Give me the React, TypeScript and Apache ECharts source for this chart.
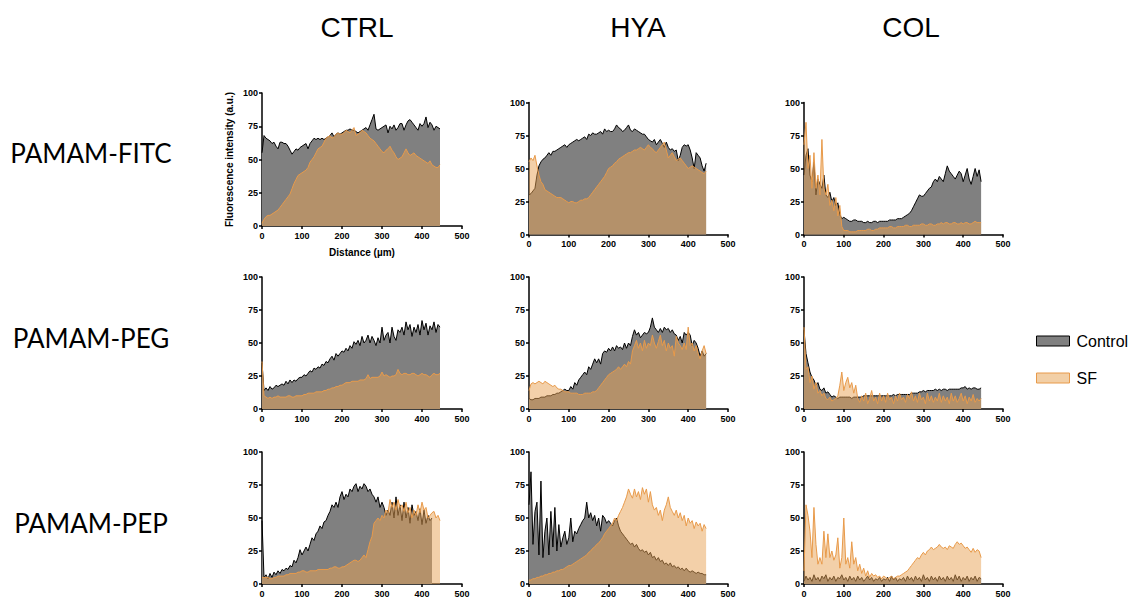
import React, { useEffect, useRef } from "react";
import * as echarts from "echarts";

// Shared distance grid (µm)
const distance = [
  0, 5, 10, 15, 20, 25, 30, 35, 40, 45,
  50, 55, 60, 65, 70, 75, 80, 85, 90, 95,
  100, 105, 110, 115, 120, 125, 130, 135, 140, 145,
  150, 155, 160, 165, 170, 175, 180, 185, 190, 195,
  200, 205, 210, 215, 220, 225, 230, 235, 240, 245,
  250, 255, 260, 265, 270, 275, 280, 285, 290, 295,
  300, 305, 310, 315, 320, 325, 330, 335, 340, 345,
  350, 355, 360, 365, 370, 375, 380, 385, 390, 395,
  400, 405, 410, 415, 420, 425, 430, 435, 440, 445,
];

const columnTitles = ["CTRL", "HYA", "COL"];
const rowTitles = ["PAMAM-FITC", "PAMAM-PEG", "PAMAM-PEP"];
const xTicks = [0, 100, 200, 300, 400, 500];
const yTicks = [0, 25, 50, 75, 100];

// Row 1: PAMAM-FITC
const ctrlFitcControl = [
  55, 68, 66, 65, 64, 62, 63, 60, 58, 63,
  63, 62, 62, 60, 57, 54, 56, 58, 57, 59,
  60, 61, 62, 58, 62, 64, 66, 65, 66, 65,
  66, 65, 66, 67, 68, 70, 67, 69, 70, 69,
  70, 71, 72, 72, 73, 72, 72, 71, 70, 71,
  72, 73, 74, 72, 76, 80, 84, 73, 72, 73,
  74, 75, 76, 70, 75, 73, 76, 72, 74, 77,
  77, 72, 76, 79, 80, 78, 76, 74, 72, 77,
  75, 77, 82, 74, 78, 76, 72, 75, 74, 73,
];
const ctrlFitcSF = [
  2, 5, 7, 8, 8, 9, 10, 11, 12, 14,
  16, 18, 20, 22, 24, 28, 32, 35, 38, 39,
  40, 41, 42, 44, 48, 50, 52, 55, 58, 59,
  60, 63, 66, 67, 68, 66, 67, 69, 70, 69,
  69, 70, 72, 71, 70, 72, 74, 68, 69, 70,
  72, 71, 70, 68, 66, 65, 64, 62, 60, 58,
  56, 55, 57, 58, 60, 57, 55, 52, 50, 51,
  52, 55, 58, 55, 53, 54, 55, 53, 52, 51,
  50, 49, 48, 47, 49, 46, 45, 44, 44, 46,
];
const hyaFitcControl = [
  30, 31, 33, 35, 45, 52, 55, 57, 58, 60,
  62, 60, 63, 63, 64, 65, 66, 67, 68, 66,
  68, 69, 70, 71, 72, 71, 72, 73, 74, 72,
  76, 75, 77, 76, 76, 77, 78, 76, 80, 78,
  79, 78, 78, 80, 83, 81, 80, 78, 79, 81,
  83, 79, 78, 80, 79, 78, 77, 76, 76, 74,
  72, 71, 70, 72, 68, 70, 72, 69, 66, 70,
  66, 64, 65, 63, 64, 56, 60, 66, 68, 67,
  68, 64, 58, 50, 62, 60, 58, 52, 48, 54,
];
const hyaFitcSF = [
  55, 58, 56, 60, 52, 45, 40, 38, 34, 33,
  32, 31, 30, 29, 28, 28, 28, 27, 26, 25,
  24, 25, 25, 24, 24, 25, 26, 26, 27, 27,
  28, 30, 32, 34, 36, 38, 40, 42, 44, 47,
  50, 51, 52, 54, 55, 57, 58, 59, 60, 61,
  62, 62, 63, 64, 64, 65, 66, 65, 64, 66,
  68, 66, 65, 63, 62, 64, 66, 68, 70, 64,
  58, 60, 62, 59, 56, 57, 58, 56, 54, 52,
  50, 51, 52, 51, 50, 49, 48, 47, 46, 48,
];
const colFitcControl = [
  45, 60, 65, 45, 40, 55, 30, 42, 38, 35,
  45, 30, 28, 32, 25, 28, 22, 24, 15, 12,
  13, 12, 11, 10, 10, 11, 11, 10, 10, 10,
  9, 9, 10, 9, 9, 10, 10, 9, 10, 10,
  10, 10, 10, 11, 11, 11, 11, 12, 12, 12,
  13, 14, 15, 16, 18, 21, 24, 27, 30, 29,
  29, 31, 33, 35, 36, 40, 42, 40, 44, 42,
  40, 46, 52, 48, 46, 44, 42, 45, 48, 46,
  40, 45, 50, 42, 38, 44, 50, 44, 49, 40,
];
const colFitcSF = [
  68, 85, 50, 60, 35, 62, 35, 45, 30, 72,
  35, 30, 38, 22, 26, 18, 28, 14, 22, 6,
  3, 3, 3, 2, 2, 2, 2, 3, 3, 3,
  3, 3, 4, 4, 3, 3, 4, 4, 5, 5,
  5, 5, 5, 6, 6, 5, 5, 6, 6, 6,
  6, 7, 7, 6, 6, 7, 7, 7, 7, 8,
  8, 7, 7, 8, 8, 7, 7, 8, 8, 9,
  8, 9, 9, 8, 8, 9, 9, 8, 8, 9,
  8, 9, 9, 8, 8, 9, 10, 9, 9, 9,
];

// Row 2: PAMAM-PEG
const ctrlPegControl = [
  35, 14, 16, 14, 17, 15, 16, 18, 17, 18,
  19, 18, 21, 19, 22, 20, 22, 21, 23, 24,
  24, 26, 25, 27, 29, 28, 31, 30, 32, 31,
  34, 33, 36, 35, 38, 40, 37, 42, 40, 42,
  44, 43, 46, 44, 48, 46, 51, 49, 52, 48,
  55, 50, 52, 56, 50, 55, 52, 48, 54, 50,
  62, 52, 56, 58, 50, 62, 55, 52, 60, 58,
  62, 56, 66, 60, 64, 55, 62, 58, 64, 56,
  67, 60, 65, 56, 63, 60, 66, 58, 64, 62,
];
const ctrlPegSF = [
  36, 10, 9, 8, 9, 8, 9, 9, 10, 9,
  9, 9, 9, 10, 10, 9, 9, 10, 10, 10,
  10, 11, 11, 12, 12, 12, 12, 13, 13, 13,
  13, 14, 14, 15, 15, 16, 16, 17, 17, 18,
  18, 19, 20, 20, 20, 21, 21, 21, 21, 22,
  22, 22, 23, 26, 23, 24, 24, 24, 24, 25,
  28, 25, 26, 25, 24, 25, 25, 26, 30, 27,
  26, 27, 27, 26, 26, 27, 27, 26, 25, 26,
  27, 26, 26, 25, 24, 26, 27, 26, 26, 27,
];
const hyaPegControl = [
  8, 7, 7, 8, 8, 8, 9, 9, 9, 10,
  10, 10, 11, 11, 12, 12, 13, 14, 15, 14,
  14, 17, 15, 20, 18, 22, 24, 26, 28, 26,
  32, 30, 34, 38, 35, 38, 34, 42, 44, 43,
  46, 44, 47, 44, 48, 46, 47, 45, 50, 46,
  50, 48, 55, 60, 56, 58, 54, 56, 58, 57,
  58, 62, 69, 62, 60, 58, 61, 58, 62, 60,
  61, 58, 60, 57, 56, 52, 55, 50, 58, 56,
  58, 56, 48, 52, 50, 46, 40, 44, 40, 42,
];
const hyaPegSF = [
  14, 19, 20, 19, 20, 21, 20, 19, 21, 20,
  19, 18, 17, 18, 16, 15, 15, 14, 13, 13,
  13, 12, 12, 12, 12, 11, 11, 11, 12, 12,
  12, 12, 13, 13, 14, 16, 18, 20, 22, 24,
  26, 27, 28, 29, 30, 32, 30, 32, 34, 32,
  36, 34, 44, 48, 52, 46, 50, 44, 52, 46,
  50, 48, 56, 50, 46, 51, 56, 48, 52, 44,
  50, 46, 48, 40, 55, 50, 48, 45, 50, 45,
  62, 48, 50, 44, 48, 42, 38, 44, 48, 42,
];
const colPegControl = [
  60, 42, 35, 28, 24, 22, 18, 20, 15, 14,
  16, 12, 13, 11, 9, 10, 9, 8, 9, 9,
  9, 9, 9, 9, 8, 9, 9, 9, 9, 9,
  10, 10, 10, 10, 10, 10, 10, 10, 10, 10,
  10, 10, 10, 10, 10, 11, 10, 11, 11, 11,
  11, 11, 11, 11, 12, 12, 12, 12, 13, 13,
  14, 13, 14, 14, 14, 14, 15, 14, 15, 14,
  15, 15, 14, 15, 15, 15, 15, 15, 15, 16,
  16, 17, 15, 16, 15, 16, 16, 15, 15, 16,
];
const colPegSF = [
  62, 30, 32, 20, 25, 15, 20, 12, 14, 10,
  12, 8, 7, 9, 6, 7, 8, 10, 18, 28,
  14, 20, 24, 16, 20, 12, 18, 8, 5, 10,
  6, 12, 4, 8, 14, 6, 9, 4, 12, 6,
  10, 5, 12, 7, 9, 4, 10, 6, 12, 7,
  9, 5, 11, 8, 13, 6, 10, 5, 12, 7,
  9, 4, 12, 6, 10, 5, 9, 6, 12, 5,
  10, 6, 9, 4, 12, 6, 10, 5, 8, 12,
  6, 10, 4, 9, 6, 11, 5, 8, 6, 8,
];

// Row 3: PAMAM-PEP
const ctrlPepControl = [
  48, 5, 7, 4, 8, 5, 9, 7, 10, 8,
  11, 10, 12, 11, 14, 13, 18, 16, 20, 26,
  22, 25, 28, 25, 30, 35, 33, 38, 40, 44,
  42, 47, 48, 52, 55, 60, 58, 62, 58, 66,
  70, 64, 68, 66, 72, 70, 74, 76, 70, 74,
  72, 76, 74, 70, 72, 68, 66, 62, 66, 58,
  62, 58, 52, 56, 52, 62, 50, 66, 52, 60,
  48, 62, 50, 58, 46, 60, 52, 55, 48, 57,
  45, 56, 46, 52, 48, 50,
];
const ctrlPepSF = [
  5, 5, 5, 5, 4, 4, 5, 5, 6, 6,
  6, 6, 7, 7, 8, 8, 8, 8, 9, 9,
  10, 10, 9, 9, 10, 10, 10, 10, 11, 11,
  11, 11, 11, 11, 12, 12, 13, 13, 12, 12,
  13, 13, 14, 15, 16, 17, 18, 18, 17, 18,
  20, 22, 20, 26, 32, 36, 46, 48, 50, 48,
  52, 50, 56, 54, 64, 58, 62, 56, 64, 58,
  60, 55, 62, 54, 58, 50, 56, 52, 60, 54,
  62, 56, 58, 50, 52, 54, 55, 50, 52, 48,
];
const hyaPepControl = [
  60, 85, 30, 55, 62, 22, 78, 20, 40, 50,
  22, 55, 28, 58, 25, 45, 28, 35, 40, 30,
  35, 50, 32, 40, 38, 42, 45, 48, 50, 62,
  50, 54, 48, 52, 44, 50, 40, 52, 50, 46,
  48, 46, 44, 48, 50, 44, 40, 38, 36, 34,
  32, 30, 31, 28, 30, 27, 25, 26, 24, 25,
  22, 24, 20, 21, 18, 20, 17, 18, 15, 16,
  14, 16, 13, 14, 12, 13, 11, 12, 10, 12,
  10, 9, 10, 9, 8, 9, 8, 8, 7, 7,
];
const hyaPepSF = [
  3, 3, 4, 4, 5, 5, 6, 6, 7, 7,
  8, 8, 9, 9, 10, 10, 11, 11, 12, 13,
  14, 14, 15, 16, 17, 18, 19, 20, 21, 22,
  24, 25, 27, 28, 30, 31, 33, 35, 38, 40,
  42, 44, 46, 50, 48, 52, 55, 58, 62, 66,
  72, 68, 65, 72, 66, 70, 64, 73, 68, 72,
  62, 70, 60, 56, 58, 52, 56, 48, 56, 60,
  66, 58, 55, 52, 56, 50, 54, 48, 52, 44,
  50, 46, 48, 42, 47, 44, 46, 40, 45, 42,
];
const colPepControl = [
  2, 6, 3, 5, 2, 7, 3, 5, 2, 6,
  4, 7, 2, 5, 3, 6, 2, 5, 4, 7,
  3, 5, 2, 6, 3, 5, 2, 6, 3, 5,
  2, 4, 6, 3, 5, 2, 4, 3, 5, 2,
  4, 3, 5, 2, 6, 3, 5, 2, 4, 3,
  5, 2, 6, 3, 5, 2, 6, 3, 5, 2,
  7, 3, 5, 2, 6, 3, 5, 2, 6, 3,
  5, 2, 6, 3, 5, 2, 7, 3, 6, 2,
  5, 3, 6, 2, 5, 3, 6, 2, 5, 4,
];
const colPepSF = [
  10, 60, 52, 40, 20, 58, 30, 15, 20, 15,
  40, 20, 38, 20, 25, 18, 22, 35, 12, 20,
  50, 15, 20, 12, 32, 15, 20, 10, 15, 8,
  12, 6, 10, 5, 8, 6, 7, 5, 6, 4,
  6, 5, 4, 5, 6, 4, 5, 6, 6, 7,
  8, 9, 10, 12, 14, 16, 18, 20, 19, 22,
  24, 22, 25, 26, 28, 26, 27, 28, 30, 28,
  27, 28, 26, 29, 28, 27, 30, 32, 30, 31,
  29, 27, 28, 26, 24, 27, 24, 26, 25, 20,
];

const panelControl = [
  [ctrlFitcControl, hyaFitcControl, colFitcControl],
  [ctrlPegControl, hyaPegControl, colPegControl],
  [ctrlPepControl, hyaPepControl, colPepControl],
];
const panelSF = [
  [ctrlFitcSF, hyaFitcSF, colFitcSF],
  [ctrlPegSF, hyaPegSF, colPegSF],
  [ctrlPepSF, hyaPepSF, colPepSF],
];

// Layout (pixels)
const colLeft = [262, 529, 804];
const colWidth = [200, 199, 199];
const rowTop = [[93, 102.5, 102.5], [277, 277, 277], [452, 452, 452]];
const rowHeight = [[133, 132, 132], [132, 132, 132], [132, 132, 132]];
const colCenter = [357, 638, 911];
const rowCenter = [153, 338, 523];

const CONTROL_FILL = "#808080";
const SF_AREA = "rgb(231,161,84)";
const SF_LINE = "#e89a4a";
const AXIS_FONT = "'Liberation Sans', Arial, sans-serif";

export default function App() {
  const ref = useRef<HTMLDivElement>(null);

  useEffect(() => {
    if (!ref.current) return;
    const chart = echarts.init(ref.current, undefined, { renderer: "svg" });

    const grids: any[] = [];
    const xAxes: any[] = [];
    const yAxes: any[] = [];
    const series: any[] = [];

    for (let r = 0; r < 3; r++) {
      for (let c = 0; c < 3; c++) {
        const idx = r * 3 + c;
        const first = idx === 0;
        grids.push({
          left: colLeft[c],
          top: rowTop[r][c],
          width: colWidth[c],
          height: rowHeight[r][c],
          containLabel: false,
        });
        const axisCommon = {
          axisLine: { show: true, onZero: false, lineStyle: { color: "#000", width: 1.5 } },
          axisTick: { show: true, inside: false, length: 3, lineStyle: { color: "#000", width: 1.5 } },
          splitLine: { show: false },
          axisLabel: {
            color: "#000",
            fontSize: 9,
            fontWeight: "bold",
            fontFamily: AXIS_FONT,
          },
        };
        xAxes.push({
          gridIndex: idx,
          type: "value",
          min: xTicks[0],
          max: xTicks[xTicks.length - 1],
          interval: 100,
          ...axisCommon,
          axisLabel: { ...axisCommon.axisLabel, margin: 5 },
          name: first ? "Distance (µm)" : "",
          nameLocation: "middle",
          nameGap: 21,
          nameTextStyle: { fontSize: 10, fontWeight: "bold", fontFamily: AXIS_FONT, color: "#000" },
        });
        yAxes.push({
          gridIndex: idx,
          type: "value",
          min: yTicks[0],
          max: yTicks[yTicks.length - 1],
          interval: 25,
          ...axisCommon,
          axisLabel: { ...axisCommon.axisLabel, margin: 4 },
          name: first ? "Fluorescence intensity (a.u.)" : "",
          nameLocation: "middle",
          nameGap: 28,
          nameRotate: 90,
          nameTextStyle: { fontSize: 10, fontWeight: "bold", fontFamily: AXIS_FONT, color: "#000" },
        });
        const ctl = panelControl[r][c];
        const sf = panelSF[r][c];
        series.push({
          name: "Control",
          type: "line",
          xAxisIndex: idx,
          yAxisIndex: idx,
          data: ctl.map((v, k) => [distance[k], v]),
          showSymbol: false,
          symbol: "none",
          lineStyle: { color: "#000", width: 1 },
          itemStyle: { color: CONTROL_FILL },
          areaStyle: { color: CONTROL_FILL, opacity: 1 },
          z: 2,
        });
        series.push({
          name: "SF",
          type: "line",
          xAxisIndex: idx,
          yAxisIndex: idx,
          data: sf.map((v, k) => [distance[k], v]),
          showSymbol: false,
          symbol: "none",
          lineStyle: { color: SF_LINE, width: 1 },
          itemStyle: { color: "#f2cfa6" },
          areaStyle: { color: SF_AREA, opacity: 0.5 },
          z: 3,
        });
      }
    }

    const graphics: any[] = [];
    columnTitles.forEach((t, i) => {
      graphics.push({
        type: "text",
        x: colCenter[i],
        y: 27,
        style: {
          text: t,
          fill: "#000",
          font: "28px 'Liberation Sans', Arial, sans-serif",
          textAlign: "center",
          textVerticalAlign: "middle",
        },
      });
    });
    rowTitles.forEach((t, i) => {
      graphics.push({
        type: "text",
        x: 91,
        y: rowCenter[i],
        style: {
          text: t,
          fill: "#000",
          font: "26px Lato, 'Noto Sans', sans-serif",
          textAlign: "center",
          textVerticalAlign: "middle",
        },
      });
    });

    chart.setOption({
      animation: false,
      backgroundColor: "#fff",
      grid: grids,
      xAxis: xAxes,
      yAxis: yAxes,
      series,
      legend: {
        orient: "vertical",
        left: 1031,
        top: 328,
        icon: "rect",
        itemWidth: 33,
        itemHeight: 10,
        itemGap: 21,
        selectedMode: false,
        textStyle: {
          fontSize: 16,
          fontFamily: "'Liberation Sans', Arial, sans-serif",
          color: "#000",
          padding: [0, 0, 0, 2],
        },
        data: [
          { name: "Control", itemStyle: { color: CONTROL_FILL, borderColor: "#000", borderWidth: 1 } },
          { name: "SF", itemStyle: { color: "#f2cfa6", borderColor: SF_LINE, borderWidth: 1 } },
        ],
      },
      graphic: graphics,
    });

    return () => chart.dispose();
  }, []);

  return (
    <div
      ref={ref}
      style={{ position: "absolute", left: 0, top: 0, width: 1138, height: 605 }}
    />
  );
}
